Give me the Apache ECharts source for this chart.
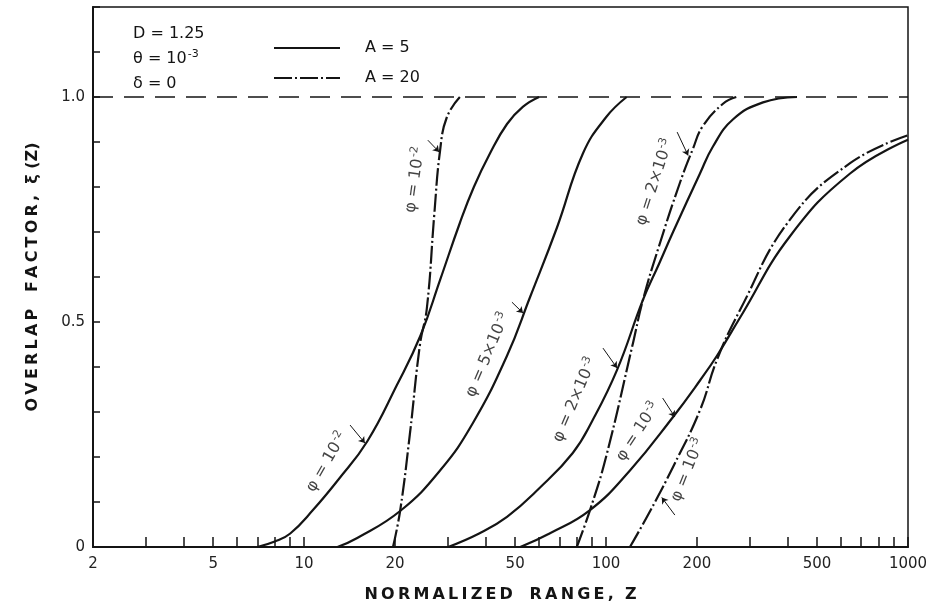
<!DOCTYPE html>
<html>
<head>
<meta charset="utf-8">
<script src="https://cdn.jsdelivr.net/npm/echarts@6/dist/echarts.min.js"></script>
<style>
html, body { margin: 0; padding: 0; background: #fff; }
#chart { width: 937px; height: 613px; }
</style>
</head>
<body>
<div id="chart"></div>
<script>
// tick labels
var xTickLabels = [2, 5, 10, 20, 50, 100, 200, 500, 1000];
var xTicks = [2, 3, 4, 5, 6, 7, 8, 9, 10, 20, 30, 40, 50, 60, 70, 80, 90, 100, 200, 300, 400, 500, 600, 700, 800, 900, 1000];
var yTickLabels = [0, 0.5, 1.0];

// curves [Z, xi(Z)]   A = 5 solid, A = 20 dash-dot
var a5Phi10m2 = [[7, 0], [8, 0.012], [9, 0.03], [10.7, 0.082], [13, 0.15], [16.2, 0.235], [20.3, 0.36], [24.3, 0.47], [28.2, 0.593], [32.8, 0.72], [36.5, 0.80], [41.3, 0.875], [47, 0.94], [53, 0.978], [60, 1.0]];
var a20Phi10m2 = [[19.7, 0], [20.8, 0.08], [22.4, 0.25], [24.2, 0.45], [25.5, 0.53], [27, 0.74], [28.2, 0.88], [29.7, 0.955], [32.8, 1.0]];
var a5Phi5x10m3 = [[12.9, 0], [15, 0.02], [20.8, 0.08], [28.2, 0.17], [36.2, 0.275], [47, 0.425], [56, 0.555], [68.8, 0.71], [83.9, 0.875], [100, 0.955], [117, 1.0]];
var a5Phi2x10m3 = [[30, 0], [38, 0.03], [47, 0.067], [60, 0.13], [77.6, 0.209], [90, 0.28], [108.7, 0.393], [132.5, 0.549], [150, 0.63], [166.7, 0.70], [204.7, 0.83], [226, 0.89], [263, 0.95], [331, 0.988], [429, 1.0]];
var a20Phi2x10m3 = [[80, 0], [88.5, 0.082], [100, 0.2], [122.8, 0.453], [132.5, 0.549], [150, 0.67], [175.8, 0.81], [194, 0.885], [209, 0.935], [244, 0.985], [270, 1.0]];
var a5Phi10m3 = [[52, 0], [65, 0.03], [88.5, 0.082], [120, 0.17], [166.7, 0.289], [204.7, 0.37], [233, 0.425], [278, 0.51], [406, 0.69], [643, 0.83], [1000, 0.905]];
var a20Phi10m3 = [[120, 0], [140, 0.08], [166.7, 0.178], [204.7, 0.304], [233, 0.416], [278, 0.527], [406, 0.727], [643, 0.853], [1000, 0.915]];
var limitLine = [[2, 1], [1000, 1]];

// curve labels [Z, xi, base, exponent, rotate]
var curveLabels = [
	[23.3, 0.816, 'φ = 10', '-2', 82],
	[11.9, 0.189, 'φ = 10', '-2', 60],
	[40.6, 0.427, 'φ = 5×10', '-3', 67],
	[78.9, 0.327, 'φ = 2×10', '-3', 67],
	[127.6, 0.256, 'φ = 10', '-3', 57],
	[186.7, 0.171, 'φ = 10', '-3', 68],
	[145, 0.811, 'φ = 2×10', '-3', 72]
];
// leader arrows, from -> to
var arrows = [
	[[25.7, 0.904], [28.0, 0.878]],
	[[14.2, 0.271], [15.9, 0.231]],
	[[48.8, 0.544], [53.1, 0.52]],
	[[97.7, 0.442], [108.7, 0.398]],
	[[154, 0.331], [169, 0.289]],
	[[169, 0.071], [153, 0.11]],
	[[172, 0.922], [187, 0.87]]
];

var dom = document.getElementById("chart");
var myChart = echarts.init(dom);
var ink = '#141414';
var font = 'DejaVu Sans';

spaced = function(s){
	return s.split('').join('\u2009');
}

curve = function(name, data){
	var s = {
		name: name,
		type: 'line',
		data: data,
		symbol: 'none',
		smooth: 0.45,
		color: ink,
		lineStyle: {color: ink, width: 2.2}
	};
	if(name == 'A = 20')
	{
		s.lineStyle.type = [18, 3, 2, 3];
	}
	return s;
}

var supRich = {
	n: {fontFamily: font, fontSize: 16, color: ink, lineHeight: 20},
	sup: {fontFamily: font, fontSize: 11, color: ink, lineHeight: 20, verticalAlign: 'top', padding: [0, 0, 6, 1]}
};

option = {
	animation: false,
	backgroundColor: '#fff',
	title: {
		text: '{n|D = 1.25}\n{n|θ = 10}{sup|-3}\n{n|δ = 0}',
		left: 128,
		top: 16,
		textStyle: {fontFamily: font, fontSize: 16, fontWeight: 'normal', color: ink, lineHeight: 25,
			rich: {
				n: {fontFamily: font, fontSize: 16, color: ink, lineHeight: 25},
				sup: {fontFamily: font, fontSize: 11, color: ink, lineHeight: 25, padding: [0, 0, 8, 1]}
			}
		}
	},
	legend: {
		data: ['A = 5', 'A = 20'],
		orient: 'vertical',
		left: 268,
		top: 35,
		itemWidth: 66,
		itemHeight: 14,
		itemGap: 14,
		itemStyle: {opacity: 0},
		textStyle: {fontFamily: font, fontSize: 16, color: ink, padding: [0, 0, 0, 20]}
	},
	grid: {
		left: 93, right: 29, top: 7, bottom: 66,
		show: true,
		borderColor: ink,
		borderWidth: 1.5
	},
	xAxis: {
		type: 'log',
		min: 2,
		max: 1000,
		name: spaced('NORMALIZED') + '   ' + spaced('RANGE,') + '  Z',
		nameLocation: 'middle',
		nameGap: 40,
		nameTextStyle: {fontFamily: font, fontSize: 16, fontWeight: 'bold', color: ink},
		axisLine: {lineStyle: {color: ink, width: 2}},
		axisTick: {inside: true, length: 10, customValues: xTicks, lineStyle: {color: ink, width: 1.5}},
		axisLabel: {
			customValues: xTickLabels, fontFamily: font, fontSize: 15, color: '#222', margin: 10,
			formatter: function(v){ return String(Math.round(v)); }
		},
		splitLine: {show: false},
		minorTick: {show: false}
	},
	yAxis: {
		type: 'value',
		min: 0,
		max: 1.2,
		interval: 0.1,
		name: spaced('OVERLAP') + '   ' + spaced('FACTOR,') + '  ξ (Z)',
		nameLocation: 'middle',
		nameGap: 52,
		nameTextStyle: {fontFamily: font, fontSize: 16, fontWeight: 'bold', color: ink},
		axisLine: {show: true, lineStyle: {color: ink, width: 2}},
		axisTick: {inside: true, length: 7, lineStyle: {color: ink, width: 1.5}},
		axisLabel: {
			fontFamily: font, fontSize: 15, color: '#222', margin: 8,
			formatter: function(v){
				for(var i = 0; i < yTickLabels.length; i++)
				{
					if(Math.abs(v - yTickLabels[i]) < 1e-6)
					{
						return v == 0 ? '0' : yTickLabels[i].toFixed(1);
					}
				}
				return '';
			}
		},
		splitLine: {show: false}
	},
	series: [
		{
			name: 'limit',
			type: 'line',
			data: limitLine,
			symbol: 'none',
			lineStyle: {color: ink, width: 1.5, type: [20, 11]}
		},
		curve('A = 5', a5Phi10m2),
		curve('A = 20', a20Phi10m2),
		curve('A = 5', a5Phi5x10m3),
		curve('A = 5', a5Phi2x10m3),
		curve('A = 20', a20Phi2x10m3),
		curve('A = 5', a5Phi10m3),
		curve('A = 20', a20Phi10m3),
		{
			name: 'labels',
			type: 'scatter',
			symbolSize: 1,
			itemStyle: {color: 'rgba(0,0,0,0)'},
			data: curveLabels.map(function(c){
				return {
					value: [c[0], c[1]],
					label: {
						show: true,
						position: 'inside',
						formatter: '{n|' + c[2] + '}{sup|' + c[3] + '}',
						rotate: c[4],
						rich: supRich
					}
				};
			})
		},
		{
			name: 'arrows',
			type: 'lines',
			coordinateSystem: 'cartesian2d',
			symbol: ['none', 'arrow'],
			symbolSize: 6,
			lineStyle: {color: ink, width: 1, opacity: 1},
			data: arrows.map(function(a){ return {coords: a}; })
		}
	]
};

myChart.setOption(option, true);
</script>
</body>
</html>
